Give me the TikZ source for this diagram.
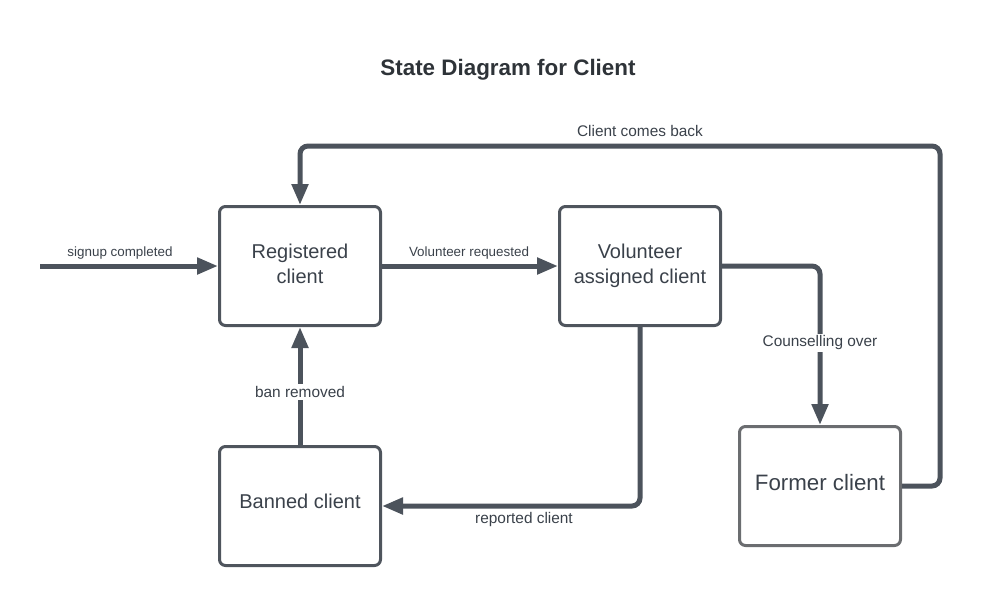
\documentclass[tikz,border=0pt]{standalone}
\usepackage{fontspec}
\setmainfont{Liberation Sans}
\usetikzlibrary{arrows.meta}
\definecolor{linec}{HTML}{4C535C}
\definecolor{boxc}{HTML}{4F555D}
\definecolor{boxf}{HTML}{6B6D70}
\definecolor{txtc}{HTML}{3A414A}
\definecolor{titlec}{HTML}{2E3338}
\tikzset{
  state/.style={draw=boxc, line width=3pt, rounded corners=6pt, minimum width=161pt, minimum height=119pt, align=center, text=txtc, font=\fontsize{20}{24.5}\selectfont, inner sep=0pt},
  conn/.style={draw=linec, line width=5pt, rounded corners=8pt, -{Triangle[length=21pt,width=16pt]}},
  lblsmall/.style={text=txtc, font=\fontsize{13.4}{16}\selectfont, inner sep=1pt},
  lbl/.style={text=txtc, font=\fontsize{15.4}{18}\selectfont, inner sep=1pt},
}
\begin{document}
\begin{tikzpicture}[x=1pt,y=-1pt]
\useasboundingbox (0,0) rectangle (984,606);
\node[text=titlec, font=\bfseries\fontsize{22.4}{26}\selectfont] (title) at (508,69.5) {State Diagram for Client};
\node[state, text depth=4.2pt] (reg) at (300,266) {Registered\\client};
\node[state] (vol) at (640,266) {Volunteer\\assigned client};
\node[state, text depth=9pt] (ban) at (300,506) {Banned client};
\node[state, draw=boxf, font=\fontsize{22.3}{26}\selectfont, text depth=8pt] (former) at (820,486) {Former client};
\coordinate (start) at (40,266);
\draw[conn] (start) -- (reg.west);
\node[lblsmall] (l1) at (120,253) {signup completed};
\draw[conn] (reg.east) -- (vol.west);
\node[lblsmall] (l2) at (469,253) {Volunteer requested};
\draw[conn] (vol.east) -- (820,266) -- (former.north);
\node[lbl, fill=white, inner sep=2pt] (l3) at (820,343) {Counselling over};
\draw[conn] (vol.south) -- (640,506) -- (ban.east);
\node[lbl] (l4) at (524,520) {reported client};
\draw[conn] (ban.north) -- (reg.south);
\node[lbl, fill=white, inner sep=2pt] (l5) at (300,392) {ban removed};
\draw[conn] (former.east) -- (940,486) -- (940,146) -- (300,146) -- (reg.north);
\node[lbl] (l6) at (640,130.5) {Client comes back};
\end{tikzpicture}
\end{document}
